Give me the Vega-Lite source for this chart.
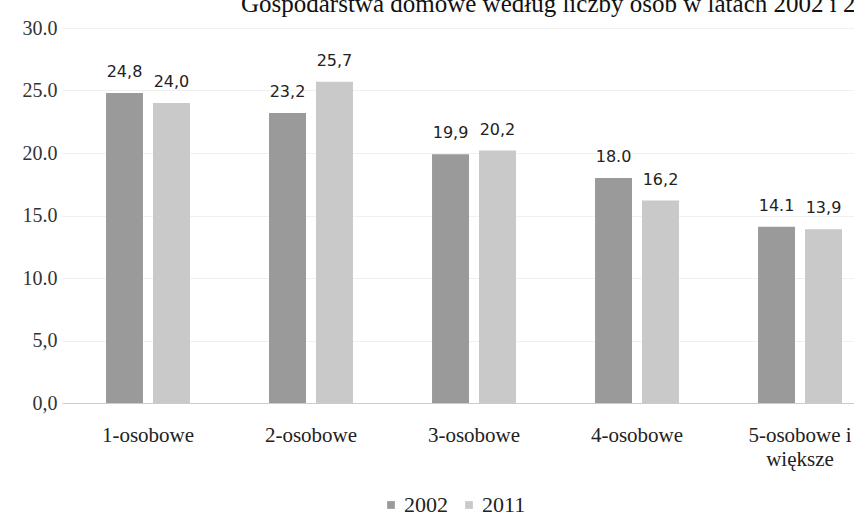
{
  "$schema": "https://vega.github.io/schema/vega-lite/v6.json",
  "width": 792,
  "height": 375,
  "autosize": {"type": "none"},
  "padding": {"left": 62, "top": 28, "right": 0, "bottom": 116},
  "background": "white",
  "title": {
    "text": "Gospodarstwa domowe według liczby osób w latach 2002 i 2011",
    "anchor": "end",
    "frame": "group",
    "font": "Liberation Serif",
    "fontSize": 25,
    "fontWeight": "normal",
    "color": "#111111",
    "dx": 38,
    "offset": -19,
    "baseline": "alphabetic"
  },
  "data": {
    "values": [
      {"kategoria": "1-osobowe", "rok": "2002", "wartosc": 24.8, "etykieta": "24,8"},
      {"kategoria": "1-osobowe", "rok": "2011", "wartosc": 24.0, "etykieta": "24,0"},
      {"kategoria": "2-osobowe", "rok": "2002", "wartosc": 23.2, "etykieta": "23,2"},
      {"kategoria": "2-osobowe", "rok": "2011", "wartosc": 25.7, "etykieta": "25,7"},
      {"kategoria": "3-osobowe", "rok": "2002", "wartosc": 19.9, "etykieta": "19,9"},
      {"kategoria": "3-osobowe", "rok": "2011", "wartosc": 20.2, "etykieta": "20,2"},
      {"kategoria": "4-osobowe", "rok": "2002", "wartosc": 18.0, "etykieta": "18.0"},
      {"kategoria": "4-osobowe", "rok": "2011", "wartosc": 16.2, "etykieta": "16,2"},
      {"kategoria": "5-osobowe i większe", "rok": "2002", "wartosc": 14.1, "etykieta": "14.1"},
      {"kategoria": "5-osobowe i większe", "rok": "2011", "wartosc": 13.9, "etykieta": "13,9"}
    ]
  },
  "encoding": {
    "x": {
      "field": "kategoria",
      "type": "nominal",
      "sort": null,
      "scale": {"range": [0, 824], "paddingInner": 0.485, "paddingOuter": 0.27},
      "axis": {
        "title": null,
        "labelAngle": 0,
        "labelFont": "Liberation Serif",
        "labelFontSize": 21,
        "labelColor": "#222222",
        "labelPadding": 21,
        "labelLineHeight": 24,
        "ticks": false,
        "domain": true,
        "domainColor": "#cccccc",
        "labelExpr": "datum.label == '5-osobowe i większe' ? ['5-osobowe i', 'większe'] : datum.label"
      }
    },
    "xOffset": {"field": "rok", "type": "nominal", "scale": {"paddingInner": 0.213}},
    "y": {
      "field": "wartosc",
      "type": "quantitative",
      "scale": {"domain": [0, 30]},
      "axis": {
        "title": null,
        "values": [0, 5, 10, 15, 20, 25, 30],
        "grid": true,
        "gridColor": "#f0f0f0",
        "domain": false,
        "ticks": false,
        "labelFont": "Liberation Serif",
        "labelFontSize": 20,
        "labelColor": "#333333",
        "labelPadding": 5,
        "labelExpr": "datum.value < 10 ? replace(format(datum.value, '.1f'), '.', ',') : format(datum.value, '.1f')"
      }
    }
  },
  "layer": [
    {
      "mark": {"type": "bar"},
      "encoding": {
        "color": {
          "field": "rok",
          "type": "nominal",
          "scale": {"range": ["#9a9a9a", "#c9c9c9"]},
          "legend": {
            "title": null,
            "orient": "none",
            "legendX": 318,
            "legendY": 466,
            "direction": "horizontal",
            "symbolType": "square",
            "symbolSize": 60,
            "labelFont": "Liberation Serif",
            "labelFontSize": 22,
            "labelColor": "#222222",
            "columnPadding": 10,
            "labelOffset": 2
          }
        }
      }
    },
    {
      "mark": {"type": "text", "baseline": "alphabetic", "dy": -16, "font": "DejaVu Sans", "fontSize": 16, "color": "#222222"},
      "encoding": {"text": {"field": "etykieta"}}
    }
  ],
  "config": {"view": {"stroke": null}}
}
